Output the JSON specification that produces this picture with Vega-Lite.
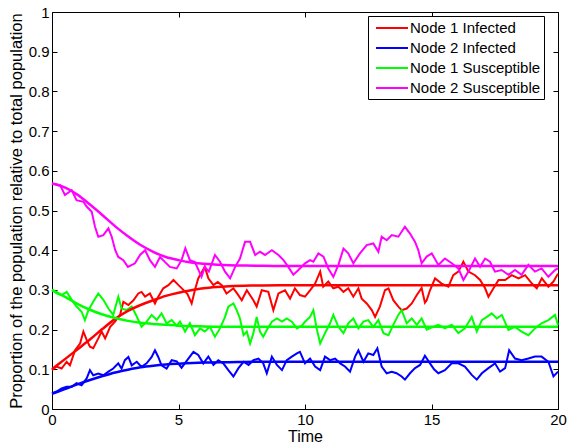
{
  "$schema": "https://vega.github.io/schema/vega-lite/v6.json",
  "width": 506,
  "height": 397,
  "autosize": "none",
  "padding": {"left": 52, "top": 12, "right": 11, "bottom": 37},
  "background": "white",
  "datasets": {
    "n1i_sim": [
      {"t":0,"v":0.098},{"t":0.18,"v":0.107},{"t":0.38,"v":0.102},{"t":0.58,"v":0.119},{"t":0.71,"v":0.11},{"t":0.91,"v":0.148},{"t":1.11,"v":0.165},{"t":1.24,"v":0.195},{"t":1.37,"v":0.174},{"t":1.5,"v":0.157},{"t":1.63,"v":0.153},{"t":1.83,"v":0.178},{"t":1.96,"v":0.195},{"t":2.1,"v":0.178},{"t":2.3,"v":0.207},{"t":2.49,"v":0.22},{"t":2.69,"v":0.237},{"t":2.82,"v":0.27},{"t":3.02,"v":0.262},{"t":3.22,"v":0.274},{"t":3.41,"v":0.291},{"t":3.54,"v":0.295},{"t":3.68,"v":0.283},{"t":3.87,"v":0.291},{"t":4.07,"v":0.266},{"t":4.2,"v":0.283},{"t":4.4,"v":0.304},{"t":4.6,"v":0.312},{"t":4.8,"v":0.325},{"t":5.0,"v":0.312},{"t":5.19,"v":0.3},{"t":5.35,"v":0.29},{"t":5.52,"v":0.266},{"t":5.65,"v":0.3},{"t":5.78,"v":0.329},{"t":6.04,"v":0.358},{"t":6.18,"v":0.329},{"t":6.38,"v":0.312},{"t":6.55,"v":0.32},{"t":6.71,"v":0.312},{"t":6.9,"v":0.291},{"t":7.17,"v":0.304},{"t":7.33,"v":0.29},{"t":7.5,"v":0.274},{"t":7.7,"v":0.299},{"t":7.96,"v":0.274},{"t":8.09,"v":0.258},{"t":8.29,"v":0.299},{"t":8.55,"v":0.295},{"t":8.75,"v":0.249},{"t":8.95,"v":0.291},{"t":9.21,"v":0.299},{"t":9.41,"v":0.278},{"t":9.6,"v":0.304},{"t":9.8,"v":0.287},{"t":10.0,"v":0.283},{"t":10.2,"v":0.299},{"t":10.4,"v":0.316},{"t":10.6,"v":0.346},{"t":10.72,"v":0.308},{"t":10.92,"v":0.321},{"t":11.12,"v":0.304},{"t":11.32,"v":0.308},{"t":11.52,"v":0.295},{"t":11.71,"v":0.304},{"t":11.91,"v":0.283},{"t":12.11,"v":0.304},{"t":12.24,"v":0.278},{"t":12.44,"v":0.266},{"t":12.64,"v":0.249},{"t":12.77,"v":0.232},{"t":12.96,"v":0.258},{"t":13.16,"v":0.299},{"t":13.3,"v":0.304},{"t":13.49,"v":0.274},{"t":13.69,"v":0.258},{"t":13.82,"v":0.249},{"t":14.02,"v":0.253},{"t":14.22,"v":0.266},{"t":14.42,"v":0.287},{"t":14.61,"v":0.305},{"t":14.74,"v":0.268},{"t":14.81,"v":0.274},{"t":14.94,"v":0.299},{"t":15.14,"v":0.329},{"t":15.4,"v":0.316},{"t":15.67,"v":0.308},{"t":15.86,"v":0.337},{"t":16.06,"v":0.346},{"t":16.26,"v":0.371},{"t":16.46,"v":0.346},{"t":16.72,"v":0.337},{"t":16.92,"v":0.325},{"t":17.12,"v":0.304},{"t":17.25,"v":0.283},{"t":17.45,"v":0.304},{"t":17.65,"v":0.325},{"t":17.91,"v":0.325},{"t":18.17,"v":0.337},{"t":18.44,"v":0.329},{"t":18.7,"v":0.337},{"t":18.97,"v":0.316},{"t":19.16,"v":0.304},{"t":19.36,"v":0.329},{"t":19.62,"v":0.308},{"t":19.82,"v":0.321},{"t":20.0,"v":0.341}
    ],
    "n2i_sim": [
      {"t":0,"v":0.04},{"t":0.18,"v":0.044},{"t":0.38,"v":0.052},{"t":0.58,"v":0.056},{"t":0.78,"v":0.056},{"t":0.97,"v":0.065},{"t":1.17,"v":0.06},{"t":1.37,"v":0.077},{"t":1.5,"v":0.098},{"t":1.63,"v":0.085},{"t":1.83,"v":0.089},{"t":2.03,"v":0.085},{"t":2.23,"v":0.094},{"t":2.42,"v":0.102},{"t":2.62,"v":0.115},{"t":2.75,"v":0.102},{"t":2.88,"v":0.123},{"t":3.02,"v":0.131},{"t":3.15,"v":0.11},{"t":3.35,"v":0.119},{"t":3.54,"v":0.106},{"t":3.74,"v":0.115},{"t":3.94,"v":0.131},{"t":4.07,"v":0.148},{"t":4.2,"v":0.131},{"t":4.33,"v":0.11},{"t":4.53,"v":0.102},{"t":4.73,"v":0.123},{"t":4.93,"v":0.12},{"t":5.12,"v":0.104},{"t":5.39,"v":0.127},{"t":5.59,"v":0.144},{"t":5.78,"v":0.136},{"t":5.98,"v":0.115},{"t":6.18,"v":0.132},{"t":6.38,"v":0.111},{"t":6.57,"v":0.123},{"t":6.77,"v":0.115},{"t":6.97,"v":0.098},{"t":7.17,"v":0.082},{"t":7.37,"v":0.103},{"t":7.57,"v":0.119},{"t":7.77,"v":0.111},{"t":7.96,"v":0.123},{"t":8.16,"v":0.127},{"t":8.35,"v":0.115},{"t":8.49,"v":0.09},{"t":8.69,"v":0.132},{"t":8.89,"v":0.111},{"t":9.09,"v":0.098},{"t":9.28,"v":0.123},{"t":9.48,"v":0.132},{"t":9.68,"v":0.14},{"t":9.8,"v":0.144},{"t":10.0,"v":0.115},{"t":10.2,"v":0.127},{"t":10.4,"v":0.107},{"t":10.6,"v":0.098},{"t":10.79,"v":0.132},{"t":10.99,"v":0.123},{"t":11.19,"v":0.127},{"t":11.39,"v":0.115},{"t":11.58,"v":0.107},{"t":11.78,"v":0.094},{"t":11.98,"v":0.132},{"t":12.11,"v":0.148},{"t":12.31,"v":0.119},{"t":12.5,"v":0.14},{"t":12.7,"v":0.136},{"t":12.86,"v":0.153},{"t":13.03,"v":0.107},{"t":13.23,"v":0.09},{"t":13.43,"v":0.094},{"t":13.62,"v":0.09},{"t":13.82,"v":0.082},{"t":13.95,"v":0.074},{"t":14.15,"v":0.09},{"t":14.35,"v":0.103},{"t":14.55,"v":0.111},{"t":14.74,"v":0.134},{"t":14.94,"v":0.115},{"t":15.1,"v":0.1},{"t":15.27,"v":0.09},{"t":15.53,"v":0.098},{"t":15.8,"v":0.115},{"t":16.06,"v":0.115},{"t":16.32,"v":0.107},{"t":16.59,"v":0.086},{"t":16.79,"v":0.074},{"t":16.99,"v":0.09},{"t":17.25,"v":0.103},{"t":17.51,"v":0.115},{"t":17.71,"v":0.094},{"t":17.91,"v":0.103},{"t":18.07,"v":0.148},{"t":18.3,"v":0.127},{"t":18.56,"v":0.123},{"t":18.83,"v":0.127},{"t":19.09,"v":0.132},{"t":19.35,"v":0.132},{"t":19.62,"v":0.119},{"t":19.82,"v":0.082},{"t":20.0,"v":0.094}
    ],
    "n1s_sim": [
      {"t":0,"v":0.3},{"t":0.18,"v":0.291},{"t":0.38,"v":0.287},{"t":0.58,"v":0.295},{"t":0.78,"v":0.275},{"t":0.97,"v":0.258},{"t":1.17,"v":0.245},{"t":1.3,"v":0.224},{"t":1.44,"v":0.249},{"t":1.63,"v":0.27},{"t":1.83,"v":0.291},{"t":2.03,"v":0.275},{"t":2.23,"v":0.253},{"t":2.42,"v":0.237},{"t":2.62,"v":0.283},{"t":2.75,"v":0.253},{"t":2.95,"v":0.249},{"t":3.15,"v":0.258},{"t":3.35,"v":0.233},{"t":3.54,"v":0.207},{"t":3.74,"v":0.22},{"t":3.94,"v":0.237},{"t":4.14,"v":0.224},{"t":4.33,"v":0.241},{"t":4.53,"v":0.216},{"t":4.73,"v":0.224},{"t":4.93,"v":0.21},{"t":5.06,"v":0.22},{"t":5.26,"v":0.195},{"t":5.45,"v":0.216},{"t":5.65,"v":0.186},{"t":5.85,"v":0.203},{"t":6.04,"v":0.195},{"t":6.24,"v":0.207},{"t":6.44,"v":0.182},{"t":6.64,"v":0.203},{"t":6.84,"v":0.232},{"t":6.97,"v":0.258},{"t":7.17,"v":0.266},{"t":7.3,"v":0.249},{"t":7.43,"v":0.228},{"t":7.57,"v":0.186},{"t":7.7,"v":0.195},{"t":7.83,"v":0.165},{"t":7.96,"v":0.191},{"t":8.09,"v":0.232},{"t":8.22,"v":0.195},{"t":8.35,"v":0.182},{"t":8.49,"v":0.199},{"t":8.69,"v":0.22},{"t":8.89,"v":0.228},{"t":9.09,"v":0.22},{"t":9.28,"v":0.228},{"t":9.48,"v":0.22},{"t":9.68,"v":0.203},{"t":9.88,"v":0.21},{"t":10.0,"v":0.22},{"t":10.2,"v":0.232},{"t":10.33,"v":0.249},{"t":10.46,"v":0.203},{"t":10.6,"v":0.165},{"t":10.79,"v":0.191},{"t":10.99,"v":0.216},{"t":11.12,"v":0.237},{"t":11.32,"v":0.207},{"t":11.52,"v":0.191},{"t":11.71,"v":0.216},{"t":11.91,"v":0.228},{"t":12.11,"v":0.203},{"t":12.31,"v":0.22},{"t":12.5,"v":0.224},{"t":12.7,"v":0.207},{"t":12.9,"v":0.224},{"t":13.1,"v":0.191},{"t":13.3,"v":0.186},{"t":13.49,"v":0.212},{"t":13.69,"v":0.237},{"t":13.82,"v":0.249},{"t":14.02,"v":0.216},{"t":14.22,"v":0.228},{"t":14.42,"v":0.212},{"t":14.61,"v":0.228},{"t":14.81,"v":0.2},{"t":15.0,"v":0.205},{"t":15.27,"v":0.212},{"t":15.53,"v":0.203},{"t":15.8,"v":0.212},{"t":16.06,"v":0.191},{"t":16.32,"v":0.203},{"t":16.59,"v":0.232},{"t":16.79,"v":0.195},{"t":16.99,"v":0.224},{"t":17.19,"v":0.232},{"t":17.38,"v":0.241},{"t":17.58,"v":0.228},{"t":17.78,"v":0.237},{"t":18.04,"v":0.199},{"t":18.3,"v":0.207},{"t":18.56,"v":0.195},{"t":18.83,"v":0.186},{"t":19.09,"v":0.203},{"t":19.35,"v":0.216},{"t":19.62,"v":0.224},{"t":19.88,"v":0.237},{"t":20.0,"v":0.212}
    ],
    "n2s_sim": [
      {"t":0,"v":0.568},{"t":0.32,"v":0.564},{"t":0.51,"v":0.539},{"t":0.78,"v":0.551},{"t":0.97,"v":0.526},{"t":1.24,"v":0.522},{"t":1.37,"v":0.51},{"t":1.57,"v":0.497},{"t":1.7,"v":0.459},{"t":1.83,"v":0.434},{"t":2.03,"v":0.438},{"t":2.23,"v":0.455},{"t":2.36,"v":0.434},{"t":2.5,"v":0.4},{"t":2.62,"v":0.383},{"t":2.82,"v":0.375},{"t":3.0,"v":0.358},{"t":3.28,"v":0.367},{"t":3.48,"v":0.388},{"t":3.68,"v":0.4},{"t":3.87,"v":0.375},{"t":4.07,"v":0.358},{"t":4.27,"v":0.383},{"t":4.47,"v":0.37},{"t":4.66,"v":0.358},{"t":4.93,"v":0.354},{"t":5.12,"v":0.375},{"t":5.27,"v":0.405},{"t":5.45,"v":0.375},{"t":5.65,"v":0.37},{"t":5.91,"v":0.333},{"t":6.04,"v":0.358},{"t":6.2,"v":0.346},{"t":6.44,"v":0.388},{"t":6.64,"v":0.371},{"t":6.84,"v":0.346},{"t":7.04,"v":0.329},{"t":7.24,"v":0.358},{"t":7.43,"v":0.379},{"t":7.63,"v":0.421},{"t":7.83,"v":0.421},{"t":8.03,"v":0.388},{"t":8.22,"v":0.396},{"t":8.42,"v":0.388},{"t":8.69,"v":0.4},{"t":8.95,"v":0.388},{"t":9.15,"v":0.375},{"t":9.34,"v":0.358},{"t":9.54,"v":0.338},{"t":9.74,"v":0.35},{"t":10.0,"v":0.367},{"t":10.2,"v":0.375},{"t":10.33,"v":0.371},{"t":10.53,"v":0.392},{"t":10.73,"v":0.384},{"t":10.92,"v":0.354},{"t":11.12,"v":0.333},{"t":11.32,"v":0.363},{"t":11.52,"v":0.404},{"t":11.71,"v":0.392},{"t":11.91,"v":0.367},{"t":12.17,"v":0.392},{"t":12.44,"v":0.413},{"t":12.7,"v":0.417},{"t":12.9,"v":0.396},{"t":13.03,"v":0.434},{"t":13.23,"v":0.425},{"t":13.43,"v":0.438},{"t":13.69,"v":0.434},{"t":13.95,"v":0.459},{"t":14.15,"v":0.442},{"t":14.35,"v":0.421},{"t":14.48,"v":0.4},{"t":14.61,"v":0.367},{"t":14.81,"v":0.384},{"t":15.01,"v":0.392},{"t":15.27,"v":0.363},{"t":15.53,"v":0.379},{"t":15.8,"v":0.367},{"t":16.06,"v":0.354},{"t":16.26,"v":0.325},{"t":16.46,"v":0.346},{"t":16.72,"v":0.379},{"t":16.92,"v":0.358},{"t":17.12,"v":0.379},{"t":17.31,"v":0.371},{"t":17.51,"v":0.346},{"t":17.77,"v":0.35},{"t":18.04,"v":0.338},{"t":18.3,"v":0.35},{"t":18.56,"v":0.338},{"t":18.83,"v":0.363},{"t":19.09,"v":0.346},{"t":19.35,"v":0.354},{"t":19.62,"v":0.333},{"t":19.88,"v":0.35},{"t":20.0,"v":0.354}
    ],
    "n1i_ode": [
      {"t":0,"v":0.1},{"t":0.5,"v":0.125},{"t":1,"v":0.15},{"t":1.5,"v":0.175},{"t":2,"v":0.202},{"t":2.5,"v":0.227},{"t":3,"v":0.247},{"t":3.5,"v":0.262},{"t":4,"v":0.274},{"t":4.5,"v":0.285},{"t":5,"v":0.293},{"t":5.5,"v":0.299},{"t":6,"v":0.304},{"t":6.5,"v":0.307},{"t":7,"v":0.309},{"t":8,"v":0.311},{"t":9,"v":0.312},{"t":12,"v":0.312},{"t":20,"v":0.312}
    ],
    "n2i_ode": [
      {"t":0,"v":0.038},{"t":0.5,"v":0.05},{"t":1,"v":0.062},{"t":1.5,"v":0.073},{"t":2,"v":0.083},{"t":2.5,"v":0.092},{"t":3,"v":0.099},{"t":3.5,"v":0.105},{"t":4,"v":0.109},{"t":4.5,"v":0.112},{"t":5,"v":0.114},{"t":6,"v":0.117},{"t":7,"v":0.118},{"t":8,"v":0.119},{"t":20,"v":0.119}
    ],
    "n1s_ode": [
      {"t":0,"v":0.3},{"t":0.5,"v":0.283},{"t":1,"v":0.265},{"t":1.5,"v":0.25},{"t":2,"v":0.238},{"t":2.5,"v":0.229},{"t":3,"v":0.222},{"t":3.5,"v":0.217},{"t":4,"v":0.214},{"t":4.5,"v":0.212},{"t":5,"v":0.21},{"t":6,"v":0.208},{"t":7,"v":0.207},{"t":20,"v":0.207}
    ],
    "n2s_ode": [
      {"t":0,"v":0.568},{"t":0.5,"v":0.558},{"t":1,"v":0.54},{"t":1.5,"v":0.515},{"t":2,"v":0.488},{"t":2.5,"v":0.46},{"t":3,"v":0.435},{"t":3.5,"v":0.413},{"t":4,"v":0.396},{"t":4.5,"v":0.383},{"t":5,"v":0.375},{"t":5.5,"v":0.369},{"t":6,"v":0.366},{"t":7,"v":0.362},{"t":8,"v":0.361},{"t":9,"v":0.36},{"t":20,"v":0.36}
    ]
  },
  "resolve": {"axis": {"x": "independent", "y": "independent"}},
  "layer": [
    {
      "data": {"name": "n1i_sim"},
      "mark": {"type": "line", "strokeWidth": 2},
      "encoding": {
        "x": {"field": "t", "type": "quantitative", "scale": {"domain": [0, 20], "nice": false, "zero": false},
              "axis": {"orient": "bottom", "values": [0, 5, 10, 15, 20], "title": "Time", "titleFontSize": 16, "labelFlush": false, "labelPadding": 8, "titlePadding": 1}},
        "y": {"field": "v", "type": "quantitative", "scale": {"domain": [0, 1], "nice": false},
              "axis": {"orient": "left", "values": [0, 0.1, 0.2, 0.3, 0.4, 0.5, 0.6, 0.7, 0.8, 0.9, 1], "format": "~g", "title": "Proportion of the population  relative to total population", "titleFontSize": 16.5, "labelFlush": false, "labelPadding": 8, "titlePadding": 4}},
        "color": {"datum": "Node 1 Infected", "type": "nominal",
                  "scale": {"domain": ["Node 1 Infected", "Node 2 Infected", "Node 1 Susceptible", "Node 2 Susceptible"], "range": ["#ff0000", "#0000ff", "#00ff00", "#ff00ff"]},
                  "legend": {"title": null}}
      }
    },
    {
      "data": {"name": "n2i_sim"},
      "mark": {"type": "line", "strokeWidth": 2},
      "encoding": {
        "x": {"field": "t", "type": "quantitative", "axis": null},
        "y": {"field": "v", "type": "quantitative", "axis": null},
        "color": {"datum": "Node 2 Infected", "type": "nominal"}
      }
    },
    {
      "data": {"name": "n1s_sim"},
      "mark": {"type": "line", "strokeWidth": 2},
      "encoding": {
        "x": {"field": "t", "type": "quantitative", "axis": null},
        "y": {"field": "v", "type": "quantitative", "axis": null},
        "color": {"datum": "Node 1 Susceptible", "type": "nominal"}
      }
    },
    {
      "data": {"name": "n2s_sim"},
      "mark": {"type": "line", "strokeWidth": 2},
      "encoding": {
        "x": {"field": "t", "type": "quantitative", "axis": null},
        "y": {"field": "v", "type": "quantitative", "axis": null},
        "color": {"datum": "Node 2 Susceptible", "type": "nominal"}
      }
    },
    {
      "data": {"name": "n1i_ode"},
      "mark": {"type": "line", "strokeWidth": 2.5, "interpolate": "monotone"},
      "encoding": {
        "x": {"field": "t", "type": "quantitative", "axis": {"orient": "top", "values": [0, 5, 10, 15, 20], "labels": false, "title": null}},
        "y": {"field": "v", "type": "quantitative", "axis": {"orient": "right", "values": [0, 0.1, 0.2, 0.3, 0.4, 0.5, 0.6, 0.7, 0.8, 0.9, 1], "labels": false, "title": null}},
        "color": {"datum": "Node 1 Infected", "type": "nominal"}
      }
    },
    {
      "data": {"name": "n2i_ode"},
      "mark": {"type": "line", "strokeWidth": 2.5, "interpolate": "monotone"},
      "encoding": {
        "x": {"field": "t", "type": "quantitative", "axis": null},
        "y": {"field": "v", "type": "quantitative", "axis": null},
        "color": {"datum": "Node 2 Infected", "type": "nominal"}
      }
    },
    {
      "data": {"name": "n1s_ode"},
      "mark": {"type": "line", "strokeWidth": 2.5, "interpolate": "monotone"},
      "encoding": {
        "x": {"field": "t", "type": "quantitative", "axis": null},
        "y": {"field": "v", "type": "quantitative", "axis": null},
        "color": {"datum": "Node 1 Susceptible", "type": "nominal"}
      }
    },
    {
      "data": {"name": "n2s_ode"},
      "mark": {"type": "line", "strokeWidth": 2.5, "interpolate": "monotone"},
      "encoding": {
        "x": {"field": "t", "type": "quantitative", "axis": null},
        "y": {"field": "v", "type": "quantitative", "axis": null},
        "color": {"datum": "Node 2 Susceptible", "type": "nominal"}
      }
    }
  ],
  "config": {
    "view": {"stroke": "black", "strokeWidth": 1},
    "font": "Liberation Sans",
    "axis": {
      "grid": false, "domain": false, "tickColor": "black", "tickSize": -5, "tickWidth": 1,
      "labelColor": "black", "labelFontSize": 15, "labelFont": "Liberation Sans",
      "titleColor": "black", "titleFontSize": 15, "titleFontWeight": "normal", "titleFont": "Liberation Sans"
    },
    "legend": {
      "orient": "none", "legendX": 316, "legendY": 4, "padding": 3,
      "strokeColor": "black", "fillColor": "white", "cornerRadius": 0,
      "symbolType": "M-1,0H3", "symbolSize": 256, "symbolStrokeWidth": 2, "symbolOffset": 4,
      "labelFont": "Liberation Sans", "labelFontSize": 15, "labelColor": "black",
      "rowPadding": 3, "labelOffset": 17
    }
  }
}
